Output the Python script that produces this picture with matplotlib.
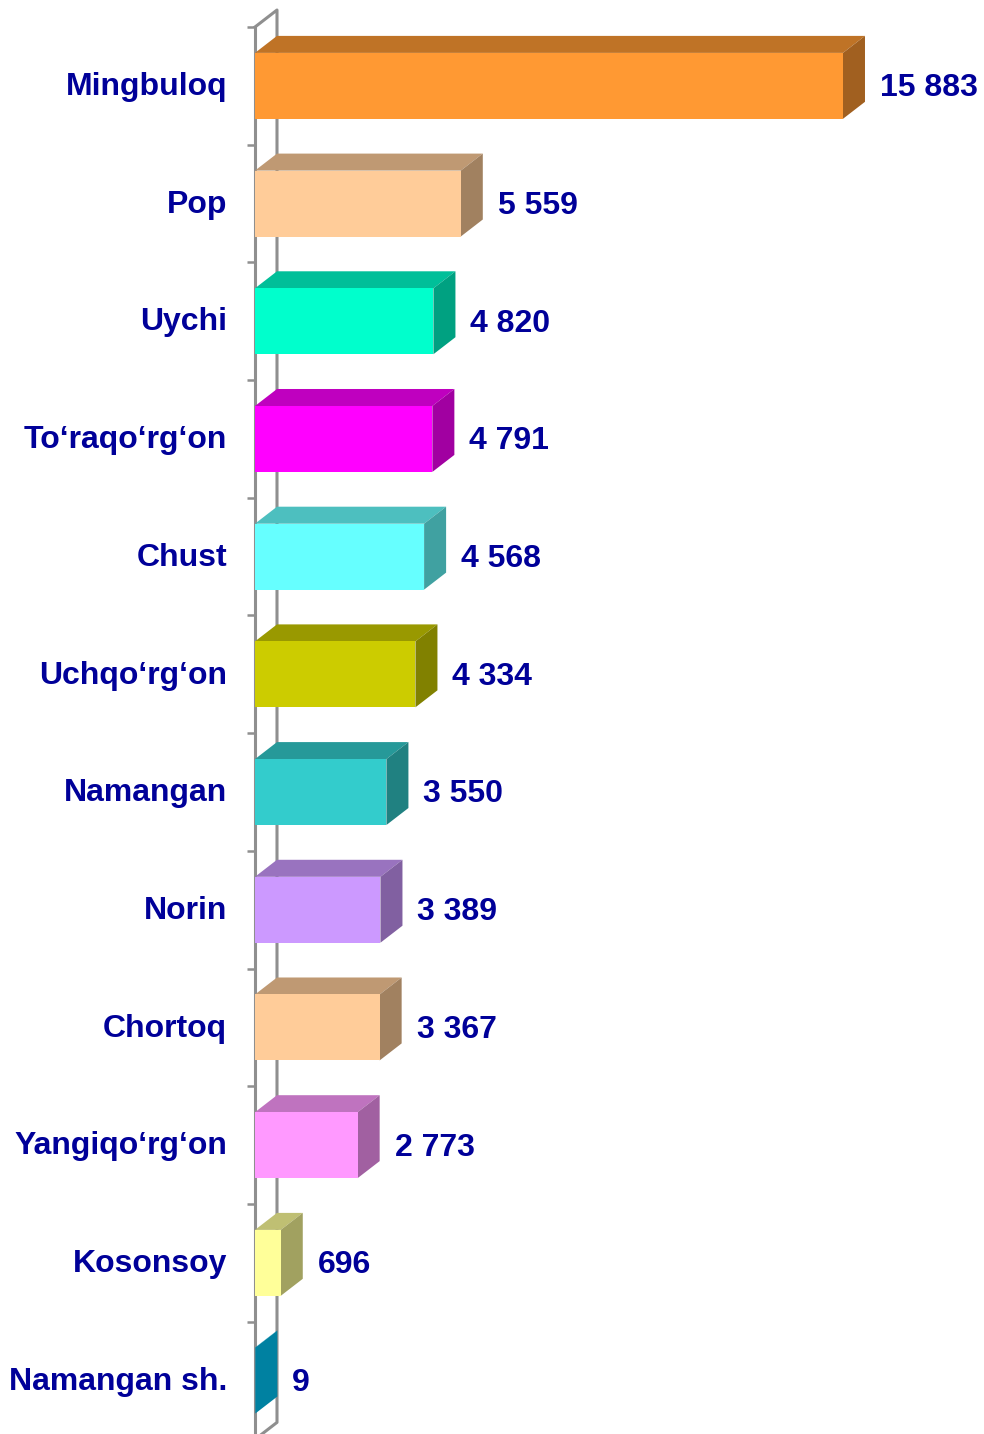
import matplotlib
matplotlib.use("Agg")
import matplotlib.pyplot as plt
from matplotlib.patches import Polygon, Rectangle
from matplotlib import transforms
import numpy as np

# data
districts = ["Mingbuloq", "Pop", "Uychi", "To\u2018raqo\u2018rg\u2018on", "Chust",
             "Uchqo\u2018rg\u2018on", "Namangan", "Norin", "Chortoq",
             "Yangiqo\u2018rg\u2018on", "Kosonsoy", "Namangan sh."]
values = [15883, 5559, 4820, 4791, 4568, 4334, 3550, 3389, 3367, 2773, 696, 9]
front_colors = ["#FF9933", "#FFCC99", "#00FFCC", "#FF00FF", "#66FFFF", "#CCCC00",
                "#33CCCC", "#CC99FF", "#FFCC99", "#FF99FF", "#FFFF99", "#00CCFF"]

plt.rcParams['font.family'] = ['Liberation Sans', 'DejaVu Sans']
txt_color = "#000099"
wall_color = "#8f8f8f"

W, H = 984, 1434
fig = plt.figure(figsize=(W/100, H/100), dpi=100)
left_px = 255
ax = fig.add_axes([left_px/W, 0, (W-left_px)/W, 1])
ax.axis("off")

px_per_unit = 0.03702          # pixels per value unit
row_px = 117.7                 # pixels per category
top_px = 27                    # pixel of the first category boundary
xmax = (W - left_px) / px_per_unit
ax.set_xlim(0, xmax)
y_top = -0.5 - top_px/row_px
ax.set_ylim(y_top + H/row_px, y_top)

dx = 22 / px_per_unit          # 3d depth, horizontal
dy = 17 / row_px               # 3d depth, vertical
hh = 0.28                      # half bar height

def shade(c, f):
    r, g, b = matplotlib.colors.to_rgb(c)
    return (r*f, g*f, b*f)

n = len(values)
# wall
ax.plot([0, 0], [-0.5, n], color=wall_color, lw=2.2, clip_on=False, zorder=1)
ax.plot([0, dx, dx, 0], [-0.5, -0.5-dy, n-0.5-dy, n-0.5], color=wall_color, lw=2.2,
        clip_on=False, zorder=1)
tick_len = 8 / px_per_unit
bounds = np.arange(-0.5, n, 1.0)
ax.hlines(bounds, -tick_len, 0, color=wall_color, lw=1.8, clip_on=False, zorder=1)

cat_tr = transforms.offset_copy(ax.transData, fig=fig, x=-28, y=0, units='dots')
val_tr = transforms.offset_copy(ax.transData, fig=fig, x=15, y=0, units='dots')

for i, (name, v, c) in enumerate(zip(districts, values, front_colors)):
    y0, y1 = i - hh, i + hh
    top = Polygon([(0, y0), (v, y0), (v+dx, y0-dy), (dx, y0-dy)], closed=True,
                  facecolor=shade(c, 0.75), edgecolor="none", zorder=3)
    side = Polygon([(v, y0), (v+dx, y0-dy), (v+dx, y1-dy), (v, y1)], closed=True,
                   facecolor=shade(c, 0.63), edgecolor="none", zorder=3)
    front = Rectangle((0, y0), v, y1-y0, facecolor=c, edgecolor="none", zorder=4)
    ax.add_patch(top)
    ax.add_patch(side)
    ax.add_patch(front)
    ax.text(0, i + 0.01, name, transform=cat_tr, ha="right", va="center",
            fontsize=23, fontweight="bold", color=txt_color, clip_on=False)
    ax.text(v + dx, i + 0.02, f"{v:,}".replace(",", " "), transform=val_tr,
            ha="left", va="center", fontsize=23, fontweight="bold",
            color=txt_color, clip_on=False)

fig.savefig("out.png", dpi=100)
